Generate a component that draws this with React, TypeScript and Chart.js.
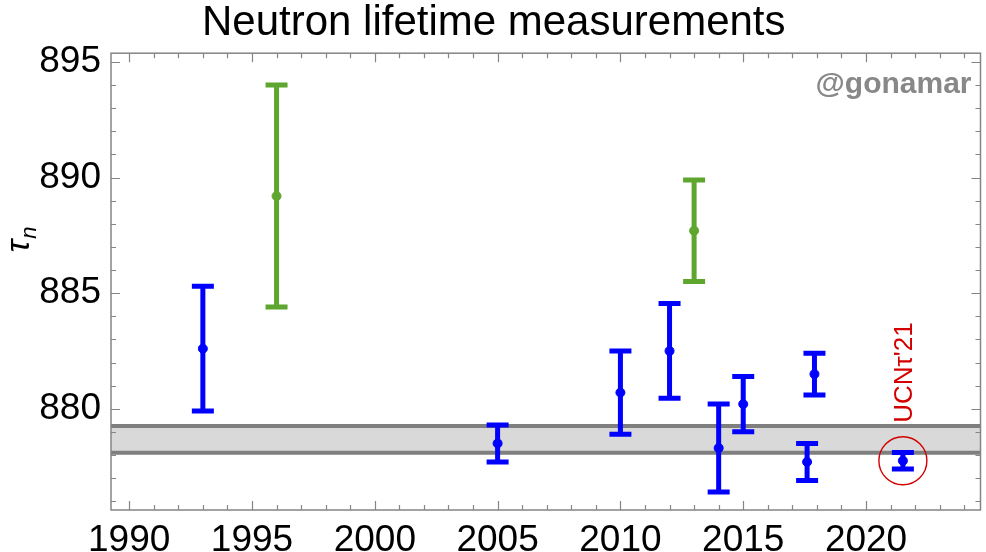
import React, { useEffect, useRef } from 'react';
import { Chart, registerables } from 'chart.js';

Chart.register(...registerables);

// ---- data ----
const bottleYears = [1993, 2005, 2010, 2012, 2014, 2015, 2017.6, 2017.9, 2021.5];
const bottleLifetimes = [882.6, 878.5, 880.7, 882.5, 878.3, 880.2, 877.7, 881.5, 877.75];
const bottleErrors = [2.7, 0.8, 1.8, 2.05, 1.9, 1.2, 0.8, 0.9, 0.36];
const beamYears = [1996, 2013];
const beamLifetimes = [889.2, 887.7];
const beamErrors = [4.8, 2.2];
const bandRange = [878.1, 879.25];
const xTickYears = [1990, 1995, 2000, 2005, 2010, 2015, 2020];
const yTickValues = [880, 885, 890, 895];
const highlightIndex = 8;
const highlightLabel = "UCNτ'21";
const chartTitle = 'Neutron lifetime measurements';
const watermark = '@gonamar';
const X_MIN = 1989.26;
const X_MAX = 2024.66;
const Y_MIN = 875.62;
const Y_MAX = 895.38;

const BLUE = '#0000ff';
const GREEN = '#5fa62f';
const RED = '#d40000';
const FRAME = '#858585';
const FONT = '"Liberation Sans", Arial, sans-serif';

const drawBars = (chart: any, xs: number[], vs: number[], es: number[], color: string) => {
  const { ctx, scales } = chart;
  const x = scales.x;
  const y = scales.y;
  ctx.save();
  ctx.strokeStyle = color;
  ctx.lineWidth = 5;
  ctx.lineCap = 'butt';
  xs.forEach((xv, i) => {
    const px = x.getPixelForValue(xv);
    const top = y.getPixelForValue(vs[i] + es[i]);
    const bot = y.getPixelForValue(vs[i] - es[i]);
    ctx.beginPath();
    ctx.moveTo(px, top);
    ctx.lineTo(px, bot);
    ctx.moveTo(px - 11, top);
    ctx.lineTo(px + 11, top);
    ctx.moveTo(px - 11, bot);
    ctx.lineTo(px + 11, bot);
    ctx.stroke();
  });
  ctx.restore();
};

const bandPlugin = {
  id: 'band',
  beforeDatasetsDraw(chart: any) {
    const { ctx, chartArea, scales } = chart;
    const y = scales.y;
    const yLo = y.getPixelForValue(bandRange[0]);
    const yHi = y.getPixelForValue(bandRange[1]);
    ctx.save();
    ctx.fillStyle = '#d9d9d9';
    ctx.fillRect(chartArea.left, yHi, chartArea.right - chartArea.left, yLo - yHi);
    ctx.strokeStyle = '#7f7f7f';
    ctx.lineWidth = 4;
    ctx.beginPath();
    ctx.moveTo(chartArea.left, yHi);
    ctx.lineTo(chartArea.right, yHi);
    ctx.moveTo(chartArea.left, yLo);
    ctx.lineTo(chartArea.right, yLo);
    ctx.stroke();
    ctx.restore();
  },
};

const decorPlugin = {
  id: 'decor',
  afterDatasetsDraw(chart: any) {
    const { ctx, chartArea, scales } = chart;
    const x = scales.x;
    const y = scales.y;
    drawBars(chart, bottleYears, bottleLifetimes, bottleErrors, BLUE);
    drawBars(chart, beamYears, beamLifetimes, beamErrors, GREEN);

    // frame + inward ticks
    ctx.save();
    ctx.strokeStyle = FRAME;
    ctx.lineWidth = 1.5;
    ctx.strokeRect(chartArea.left, chartArea.top, chartArea.right - chartArea.left, chartArea.bottom - chartArea.top);
    ctx.lineWidth = 1.2;
    ctx.beginPath();
    for (let yr = Math.ceil(X_MIN); yr <= X_MAX; yr++) {
      const px = Math.round(x.getPixelForValue(yr)) + 0.5;
      const len = yr % 5 === 0 ? 9 : 5;
      ctx.moveTo(px, chartArea.bottom);
      ctx.lineTo(px, chartArea.bottom - len);
      ctx.moveTo(px, chartArea.top);
      ctx.lineTo(px, chartArea.top + len);
    }
    for (let v = Math.ceil(Y_MIN); v <= Y_MAX; v++) {
      const py = Math.round(y.getPixelForValue(v)) + 0.5;
      const len = v % 5 === 0 ? 9 : 5;
      ctx.moveTo(chartArea.left, py);
      ctx.lineTo(chartArea.left + len, py);
      ctx.moveTo(chartArea.right, py);
      ctx.lineTo(chartArea.right - len, py);
    }
    ctx.stroke();
    ctx.restore();

    // highlight circle + label
    const hx = x.getPixelForValue(bottleYears[highlightIndex]);
    const hy = y.getPixelForValue(bottleLifetimes[highlightIndex]);
    ctx.save();
    ctx.strokeStyle = RED;
    ctx.lineWidth = 1.4;
    ctx.beginPath();
    ctx.arc(hx, hy, 24, 0, Math.PI * 2);
    ctx.stroke();
    ctx.translate(hx + 2, hy - 38);
    ctx.rotate(-Math.PI / 2);
    ctx.fillStyle = RED;
    ctx.font = `26px ${FONT}`;
    ctx.textAlign = 'left';
    ctx.textBaseline = 'middle';
    ctx.fillText(highlightLabel, 0, 0);
    ctx.restore();

    // watermark
    ctx.save();
    ctx.fillStyle = '#888888';
    ctx.font = `bold 30px ${FONT}`;
    ctx.textAlign = 'right';
    ctx.textBaseline = 'alphabetic';
    ctx.fillText(watermark, chartArea.right - 9, chartArea.top + 40);
    ctx.restore();

    // y axis title: tau with subscript n
    ctx.save();
    ctx.translate(29, 240);
    ctx.rotate(-Math.PI / 2);
    ctx.fillStyle = '#000';
    ctx.font = `italic 34px ${FONT}`;
    const wt = ctx.measureText('τ').width;
    ctx.font = `italic 22px ${FONT}`;
    const wn = ctx.measureText('n').width;
    const start = -(wt + wn) / 2;
    ctx.font = `italic 34px ${FONT}`;
    ctx.textBaseline = 'alphabetic';
    ctx.textAlign = 'left';
    ctx.fillText('τ', start, 0);
    ctx.font = `italic 22px ${FONT}`;
    ctx.fillText('n', start + wt + 1, 7);
    ctx.restore();
  },
};

export default function App() {
  const ref = useRef<HTMLCanvasElement | null>(null);
  useEffect(() => {
    if (!ref.current) return;
    const chart = new Chart(ref.current, {
      type: 'scatter',
      data: {
        datasets: [
          {
            data: bottleYears.map((yr, i) => ({ x: yr, y: bottleLifetimes[i] })),
            backgroundColor: BLUE,
            borderColor: BLUE,
            pointRadius: 4.5,
            showLine: false,
            fill: false,
          },
          {
            data: beamYears.map((yr, i) => ({ x: yr, y: beamLifetimes[i] })),
            backgroundColor: GREEN,
            borderColor: GREEN,
            pointRadius: 4.5,
            showLine: false,
            fill: false,
          },
        ],
      },
      options: {
        animation: false,
        responsive: true,
        maintainAspectRatio: false,
        layout: { padding: { left: 0, right: -1.5, top: 0, bottom: 0 } },
        plugins: {
          legend: { display: false },
          tooltip: { enabled: false },
          title: {
            display: true,
            text: chartTitle,
            color: '#000',
            font: { family: FONT, size: 42, weight: 'normal', lineHeight: 1.1 },
            padding: { top: 0, bottom: 7 },
          },
        },
        scales: {
          x: {
            type: 'linear',
            min: X_MIN,
            max: X_MAX,
            grid: { display: false },
            border: { display: false },
            afterBuildTicks: (s: any) => {
              s.ticks = xTickYears.map((v) => ({ value: v }));
            },
            afterFit: (s: any) => {
              s.height = 42;
              s.paddingLeft = 0;
              s.paddingRight = 0;
            },
            ticks: {
              color: '#000',
              font: { family: FONT, size: 37 },
              padding: 1,
              maxRotation: 0,
              autoSkip: false,
              callback: (v: any) => String(v),
            },
          },
          y: {
            type: 'linear',
            min: Y_MIN,
            max: Y_MAX,
            grid: { display: false },
            border: { display: false },
            afterBuildTicks: (s: any) => {
              s.ticks = yTickValues.map((v) => ({ value: v }));
            },
            afterFit: (s: any) => {
              s.width = 111;
              s.paddingTop = 0;
              s.paddingBottom = 0;
            },
            ticks: {
              color: '#000',
              font: { family: FONT, size: 37 },
              padding: 2,
              autoSkip: false,
              callback: (v: any) => String(v),
            },
          },
        },
      },
      plugins: [bandPlugin, decorPlugin],
    });
    return () => chart.destroy();
  }, []);
  return (
    <div style={{ position: 'fixed', left: 0, top: 0, width: 986, height: 552, background: '#fff' }}>
      <canvas ref={ref} />
    </div>
  );
}
